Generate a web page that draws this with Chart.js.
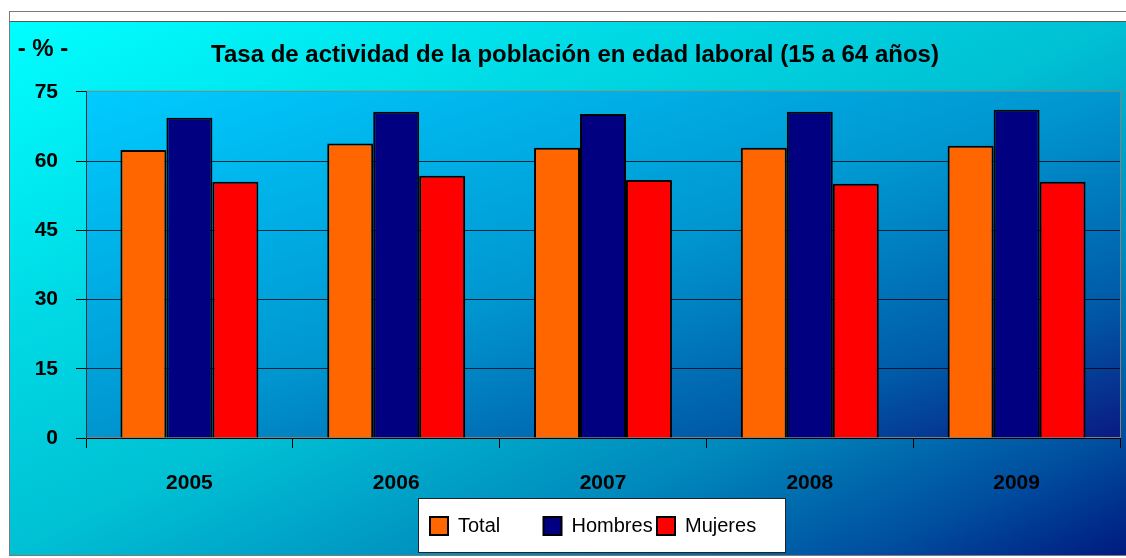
<!DOCTYPE html>
<html>
<head>
<meta charset="utf-8">
<script src="https://cdn.jsdelivr.net/npm/chart.js@4"></script>
<style>
    body { margin: 0; background: #fff; overflow: hidden; }
    #marco { position: absolute; left: 9px; top: 11px; width: 1130px; height: 543px; border: 1px solid #7a7a7a; border-right: none; background: #fff; }
    #fondo { position: absolute; left: 10px; top: 21px; width: 1116px; height: 533px; border-top: 1px solid #555;
        background: linear-gradient(to bottom right, #00ffff 0%, #00d8e4 30%, #00c0d4 50%, #0088bc 72%, #0050a0 88%, #001a80 100%); }
    #grafico { position: absolute; left: 10px; top: 22px; }
</style>
</head>
<body>
<div id="marco"></div>
<div id="fondo"></div>
<canvas id="grafico" width="1116" height="532"></canvas>
<script>
// Datos
const anios = ['2005', '2006', '2007', '2008', '2009'];
const total = [62.4, 63.8, 62.9, 62.9, 63.3];
const hombres = [69.4, 70.7, 70.2, 70.7, 71.1];
const mujeres = [55.5, 56.8, 55.9, 55.1, 55.5];
const marcasEjeY = [0, 15, 30, 45, 60, 75];

const fuente = "'Liberation Sans', Arial, sans-serif";

// Fondo degradado del área de trazado, unidad y leyenda
const fondoArea = {
    id: 'fondoArea',
    beforeDraw(chart) {
        const ctx = chart.ctx;
        const a = chart.chartArea;
        const w = a.right - a.left, h = a.bottom - a.top;
        const cx = a.left + w / 2, cy = a.top + h / 2;
        const d = Math.sqrt(w * w + h * h);
        const L = w * h / d;
        const dx = h / d, dy = w / d;
        const g = ctx.createLinearGradient(cx - L * dx, cy - L * dy, cx + L * dx, cy + L * dy);
        g.addColorStop(0, '#00ccff');
        g.addColorStop(0.5, '#0096d0');
        g.addColorStop(0.8, '#005aa8');
        g.addColorStop(1, '#0a1a82');
        ctx.save();
        ctx.fillStyle = g;
        ctx.fillRect(a.left, a.top, w, h);
        ctx.strokeStyle = '#808080';
        ctx.lineWidth = 1;
        ctx.strokeRect(a.left + 0.5, a.top - 0.5, w, h);
        ctx.restore();
    },
    afterDraw(chart) {
        const ctx = chart.ctx;
        ctx.save();
        // etiqueta de unidad
        ctx.font = 'bold 24px ' + fuente;
        ctx.fillStyle = '#000';
        ctx.textAlign = 'center';
        ctx.textBaseline = 'middle';
        ctx.fillText('- % -', 33, 27);

        // leyenda con columnas fijas como en Excel
        const lx = 408, ly = 476, lw = 367, lh = 54;
        ctx.fillStyle = '#fff';
        ctx.fillRect(lx, ly, lw, lh);
        ctx.strokeStyle = '#222';
        ctx.lineWidth = 1;
        ctx.strokeRect(lx + 0.5, ly + 0.5, lw, lh);
        ctx.font = '20px ' + fuente;
        ctx.textAlign = 'left';
        chart.data.datasets.forEach(function (ds, i) {
            const x = 420 + i * 113.5;
            ctx.fillStyle = ds.backgroundColor;
            ctx.fillRect(x, 495, 18, 18);
            ctx.strokeStyle = '#000';
            ctx.lineWidth = 2;
            ctx.strokeRect(x, 495, 18, 18);
            ctx.fillStyle = '#000';
            ctx.fillText(ds.label, x + 28, 504);
        });
        ctx.restore();
    }
};

const ctx = document.getElementById('grafico').getContext('2d');
const grafico = new Chart(ctx, {
    type: 'bar',
    data: {
        labels: anios,
        datasets: [
            { label: 'Total', data: total, backgroundColor: '#ff6600', borderColor: '#000', borderWidth: 2 },
            { label: 'Hombres', data: hombres, backgroundColor: '#000080', borderColor: '#000', borderWidth: 2 },
            { label: 'Mujeres', data: mujeres, backgroundColor: '#ff0000', borderColor: '#000', borderWidth: 2 }
        ]
    },
    options: {
        responsive: false,
        animation: false,
        layout: { padding: { left: 20, right: 6, top: 0, bottom: 57 } },
        datasets: { bar: { categoryPercentage: 0.667, barPercentage: 1.0 } },
        plugins: {
            legend: { display: false },
            tooltip: { enabled: false },
            title: {
                display: true,
                text: 'Tasa de actividad de la población en edad laboral (15 a 64 años)',
                color: '#000',
                font: { family: fuente, size: 24, weight: 'bold', lineHeight: 1.2 },
                padding: { top: 19, bottom: 22 }
            }
        },
        scales: {
            x: {
                afterFit(scale) { scale.height = 59; },
                grid: { drawOnChartArea: false, drawTicks: true, tickLength: 10, color: '#000', offset: true },
                border: { color: '#000', width: 1 },
                ticks: { color: '#000', padding: 23, font: { family: fuente, size: 21, weight: 'bold', lineHeight: 1.2 } }
            },
            y: {
                min: 0,
                max: 75,
                afterFit(scale) { scale.width = 56; },
                afterBuildTicks(scale) { scale.ticks = marcasEjeY.map(v => ({ value: v })); },
                grid: {
                    color: ctx => ctx.tick && ctx.tick.value === 75 ? 'rgba(0,0,0,0)' : 'rgba(0,0,0,0.75)',
                    tickColor: '#000',
                    tickLength: 10
                },
                border: { color: '#333', width: 1 },
                ticks: { color: '#000', padding: 18, font: { family: fuente, size: 21, weight: 'bold' } }
            }
        }
    },
    plugins: [fondoArea]
});
</script>
</body>
</html>
